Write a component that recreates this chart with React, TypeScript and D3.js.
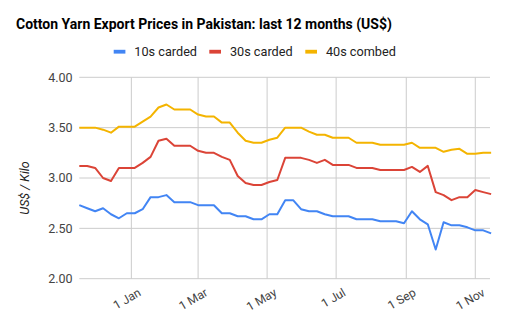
import React from "react";
import * as d3 from "d3";

const title = "Cotton Yarn Export Prices in Pakistan: last 12 months (US$)";
const yAxisTitle = "US$ / Kilo";

const dates = [
  "2018-11-16", "2018-11-23", "2018-11-30", "2018-12-07", "2018-12-14", "2018-12-21", "2018-12-28",
  "2019-01-04", "2019-01-11", "2019-01-18", "2019-01-25", "2019-02-01", "2019-02-08", "2019-02-15",
  "2019-02-22", "2019-03-01", "2019-03-08", "2019-03-15", "2019-03-22", "2019-03-29", "2019-04-05",
  "2019-04-12", "2019-04-19", "2019-04-26", "2019-05-03", "2019-05-10", "2019-05-17", "2019-05-24",
  "2019-05-31", "2019-06-07", "2019-06-14", "2019-06-21", "2019-06-28", "2019-07-05", "2019-07-12",
  "2019-07-19", "2019-07-26", "2019-08-02", "2019-08-09", "2019-08-16", "2019-08-23", "2019-08-30",
  "2019-09-06", "2019-09-13", "2019-09-20", "2019-09-27", "2019-10-04", "2019-10-11", "2019-10-18",
  "2019-10-25", "2019-11-01", "2019-11-08", "2019-11-15",
];

const carded10s = [
  2.73, 2.70, 2.67, 2.70, 2.64, 2.60, 2.65, 2.65, 2.69, 2.81, 2.81, 2.83, 2.76, 2.76, 2.76, 2.73,
  2.73, 2.73, 2.65, 2.65, 2.62, 2.62, 2.59, 2.59, 2.64, 2.64, 2.78, 2.78, 2.69, 2.67, 2.67, 2.64,
  2.62, 2.62, 2.62, 2.59, 2.59, 2.59, 2.57, 2.57, 2.57, 2.55, 2.67, 2.59, 2.54, 2.29, 2.56, 2.53,
  2.53, 2.51, 2.48, 2.48, 2.45,
];

const carded30s = [
  3.12, 3.12, 3.10, 3.00, 2.97, 3.10, 3.10, 3.10, 3.15, 3.21, 3.37, 3.39, 3.32, 3.32, 3.32, 3.27,
  3.25, 3.25, 3.21, 3.18, 3.02, 2.95, 2.93, 2.93, 2.96, 2.98, 3.20, 3.20, 3.20, 3.18, 3.15, 3.18,
  3.13, 3.13, 3.13, 3.10, 3.10, 3.10, 3.08, 3.08, 3.08, 3.08, 3.11, 3.06, 3.12, 2.86, 2.83, 2.78,
  2.81, 2.81, 2.88, 2.86, 2.84,
];

const combed40s = [
  3.50, 3.50, 3.50, 3.48, 3.45, 3.51, 3.51, 3.51, 3.56, 3.61, 3.70, 3.73, 3.68, 3.68, 3.68, 3.63,
  3.61, 3.61, 3.55, 3.55, 3.45, 3.37, 3.35, 3.35, 3.38, 3.40, 3.50, 3.50, 3.50, 3.46, 3.43, 3.43,
  3.40, 3.40, 3.40, 3.35, 3.35, 3.35, 3.33, 3.33, 3.33, 3.33, 3.35, 3.30, 3.30, 3.30, 3.26, 3.28,
  3.29, 3.24, 3.24, 3.25, 3.25,
];

const seriesNames = ["10s carded", "30s carded", "40s combed"];
const seriesColors = ["#4285f4", "#db4437", "#f4b400"];
const yTicks = [2.0, 2.5, 3.0, 3.5, 4.0];
const xTickDates = ["2019-01-01", "2019-03-01", "2019-05-01", "2019-07-01", "2019-09-01", "2019-11-01"];
const xTickLabels = ["1 Jan", "1 Mar", "1 May", "1 Jul", "1 Sep", "1 Nov"];

const W = 506;
const H = 324;
const FONT = "Roboto, Arial, sans-serif";

export default function App() {
  const parse = d3.utcParse("%Y-%m-%d");
  const xs = dates.map((d) => parse(d) as Date);
  const x = d3
    .scaleUtc()
    .domain([parse("2018-11-16") as Date, parse("2019-11-14") as Date])
    .range([79.3, 490]);
  const y = d3.scaleLinear().domain([2, 4]).range([278.7, 77.3]);
  const allSeries = [carded10s, carded30s, combed40s];
  const line = d3
    .line<number>()
    .x((_, i) => x(xs[i]))
    .y((v) => y(v));

  const legendX = [113.7, 209.3, 305.3];

  return (
    <svg width={W} height={H} style={{ position: "absolute", left: 0, top: 0, background: "#fff" }}>
      <rect x={0} y={0} width={W} height={H} fill="#fff" />
      <text x={16} y={28.8} fontFamily={FONT} fontWeight="bold" fontSize={14} fill="#000">
        {title}
      </text>
      {seriesNames.map((n, i) => (
        <g key={n}>
          <rect x={legendX[i]} y={49.8} width={11.7} height={3.8} fill={seriesColors[i]} />
          <text x={legendX[i] + 20.6} y={56.3} fontFamily={FONT} fontSize={12.7} fill="#222">
            {n}
          </text>
        </g>
      ))}
      {yTicks.map((t) => (
        <g key={t}>
          <line x1={79.3} x2={490} y1={y(t)} y2={y(t)} stroke="#cccccc" strokeWidth={1} />
          <text x={72.5} y={y(t) + 4.3} textAnchor="end" fontFamily={FONT} fontSize={12.5} fill="#444">
            {t.toFixed(2)}
          </text>
        </g>
      ))}
      {xTickDates.map((d, i) => {
        const xx = x(parse(d) as Date);
        return (
          <g key={d}>
            <line x1={xx} x2={xx} y1={77.3} y2={278.7} stroke="#cccccc" strokeWidth={1} />
            <text
              transform={`translate(${xx + 10.5},295) rotate(-30)`}
              textAnchor="end"
              fontFamily={FONT}
              fontSize={12}
              fill="#444"
            >
              {xTickLabels[i]}
            </text>
          </g>
        );
      })}
      <text
        transform="translate(28.5,188) rotate(-90)"
        textAnchor="middle"
        fontFamily={FONT}
        fontStyle="italic"
        fontSize={12.5}
        fill="#222"
      >
        {yAxisTitle}
      </text>
      {allSeries.map((s, i) => (
        <path key={i} d={line(s) || ""} fill="none" stroke={seriesColors[i]} strokeWidth={2} strokeLinejoin="round" />
      ))}
    </svg>
  );
}
